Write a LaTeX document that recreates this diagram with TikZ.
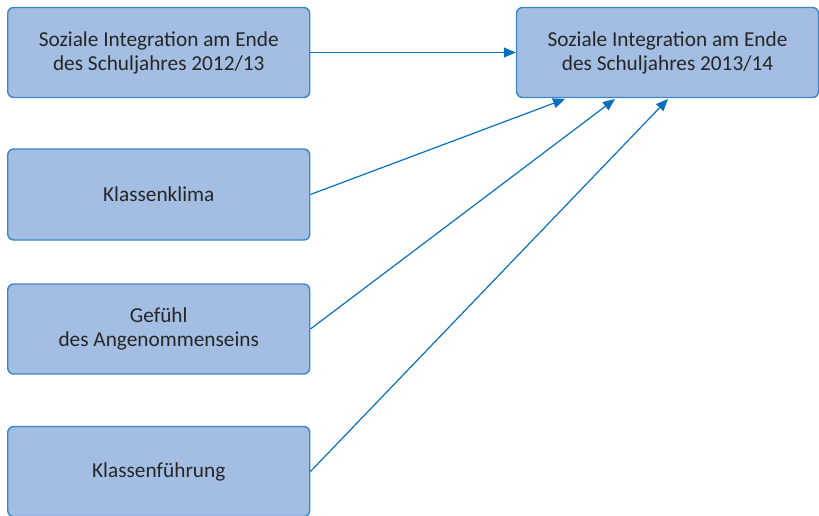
\documentclass[tikz,border=0pt]{standalone}
\usepackage{fontspec}
\setmainfont{Carlito}
\usetikzlibrary{arrows.meta}
\definecolor{boxfill}{HTML}{A3BEE2}
\definecolor{boxline}{HTML}{3A86C8}
\definecolor{arrowc}{HTML}{0A70BE}
\definecolor{txt}{HTML}{262626}
\begin{document}
\begin{tikzpicture}[x=1pt,y=-1pt,
  box/.style={draw=boxline,fill=boxfill,line width=1.4pt,rounded corners=6pt,
    minimum width=302pt,minimum height=90pt,align=center,text=txt,
    font=\fontsize{21.3}{24}\selectfont,inner sep=0pt},
  conn/.style={draw=arrowc,line width=1.2pt,-{Triangle[length=12pt,width=10pt]}}]
\useasboundingbox (0,0) rectangle (819,516);
\node[box] (a) at (158.75,52.5) {Soziale Integration am Ende\\des Schuljahres 2012/13};
\node[box] (r) at (667.5,52.5) {Soziale Integration am Ende\\des Schuljahres 2013/14};
\node[box,minimum height=91pt] (b) at (158.75,194.5) {Klassenklima};
\node[box] (c) at (158.75,329) {Gefühl\\des Angenommenseins};
\node[box] (d) at (158.75,471.5) {Klassenführung};
\coordinate (t1) at (565,99);
\coordinate (t2) at (615,99);
\coordinate (t3) at (668,99);
\draw[conn] (a.east) -- (r.west);
\draw[conn] (b.east) -- (t1);
\draw[conn] (c.east) -- (t2);
\draw[conn] (d.east) -- (t3);
\end{tikzpicture}
\end{document}
